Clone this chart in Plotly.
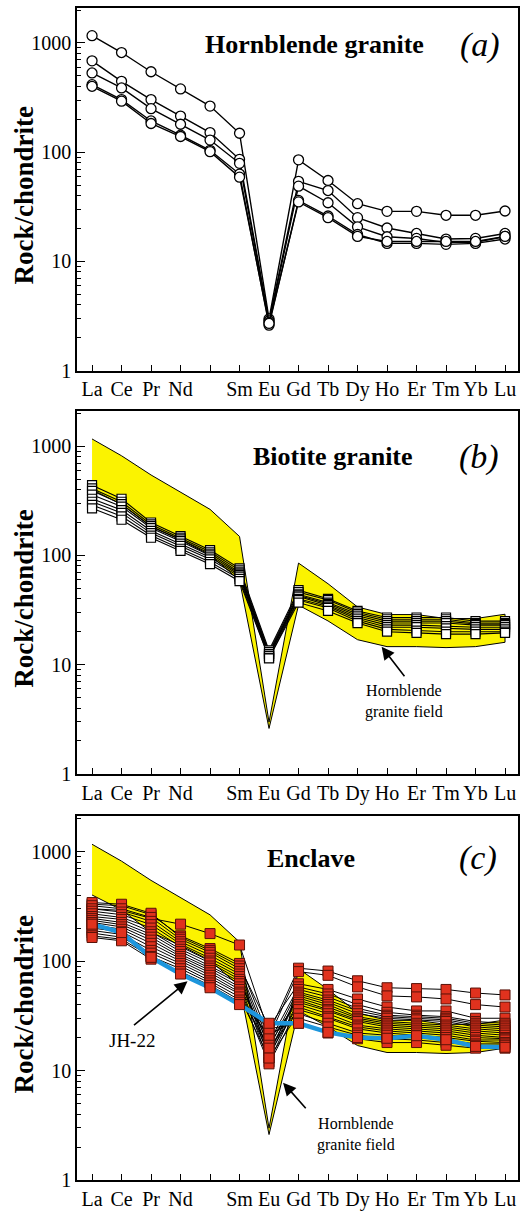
import plotly.graph_objects as go

# Chondrite-normalised REE patterns (Pm position kept, label left blank)
ree = ["La", "Ce", "Pr", "Nd", "Pm", "Sm", "Eu", "Gd", "Tb", "Dy", "Ho", "Er", "Tm", "Yb", "Lu"]
tick_labels = ["La", "Ce", "Pr", "Nd", "", "Sm", "Eu", "Gd", "Tb", "Dy", "Ho", "Er", "Tm", "Yb", "Lu"]

# (a) Hornblende granite
hbl_1 = [1165, 817, 545, 379, 264, 149, 2.97, 85, 55, 33.7, 28.7, 28.7, 26.4, 26.4, 28.9]
hbl_2 = [686, 445, 303, 214, 151, 86, 2.85, 54, 44.5, 25.1, 20.2, 18.0, 16.0, 16.2, 18.0]
hbl_3 = [531, 387, 250, 180, 129, 79, 2.75, 48.8, 34.4, 20.7, 16.8, 16.2, 14.9, 14.9, 16.9]
hbl_4 = [415, 303, 193, 143, 104, 63, 2.6, 36.1, 26.0, 17.6, 14.6, 14.6, 14.3, 14.6, 16.0]
hbl_5 = [401, 293, 183, 139, 101, 59, 2.7, 35.0, 25.1, 16.9, 15.2, 15.2, 15.2, 15.2, 16.9]
hornblende = [hbl_1, hbl_2, hbl_3, hbl_4, hbl_5]

# (b) Biotite granite
bt_1 = [440, 330, 200, 150, 112, 76, 13.5, 48, 40, 31, 27, 27, 27, 25, 25]
bt_2 = [410, 310, 192, 145, 108, 73, 13.0, 46, 39, 30, 26, 26, 26, 24, 24]
bt_3 = [390, 295, 185, 140, 104, 70, 12.5, 44, 37, 29, 25, 25, 25, 23.5, 23.5]
bt_4 = [360, 280, 178, 135, 100, 68, 12.5, 43, 36, 28, 24, 24, 24, 23, 23]
bt_5 = [330, 260, 168, 128, 96, 66, 12.0, 42, 35, 27, 23, 23, 22.5, 22, 22]
bt_6 = [310, 245, 160, 122, 92, 64, 12.0, 40, 34, 26, 22, 22, 21.5, 21, 21]
bt_7 = [290, 228, 152, 115, 87, 61, 11.5, 39, 33, 25, 21, 20.5, 20, 20, 20]
bt_8 = [270, 212, 145, 110, 83, 58, 11.4, 37, 31, 24, 20, 19.5, 19, 19, 19.5]
biotite = [bt_1, bt_2, bt_3, bt_4, bt_5, bt_6, bt_7, bt_8]

# (c) Enclaves
enc_1 = [300, 290, 245, 217, 178, 140, 22, 86, 81, 66, 57, 56, 55, 51, 49]
enc_2 = [330, 320, 265, 170, 130, 95, 20, 80, 74, 58, 48, 47, 45, 40, 38]
enc_3 = [342, 330, 273, 165, 125, 90, 25, 62, 55, 45, 38, 35, 35, 30, 30]
enc_4 = [320, 300, 250, 158, 120, 85, 18, 58, 50, 40, 34, 32, 31, 28, 27]
enc_5 = [300, 280, 230, 150, 113, 80, 16, 55, 47, 37, 32, 31, 30, 27, 26]
enc_6 = [285, 265, 215, 143, 106, 76, 14, 52, 44, 35, 31, 30, 29, 26, 25]
enc_7 = [270, 250, 200, 135, 100, 72, 13, 50, 42, 33, 30, 29, 28, 25, 24]
enc_8 = [255, 240, 185, 128, 96, 68, 15, 48, 40, 31, 28, 27, 26, 24, 23]
enc_9 = [245, 225, 175, 122, 90, 65, 17, 46, 38, 30, 27, 26, 25, 23, 22]
enc_10 = [235, 215, 165, 115, 86, 62, 12, 44, 36, 29, 26, 25, 24, 22, 21]
enc_11 = [225, 205, 155, 110, 82, 58, 19, 42, 35, 28, 25, 24, 23, 21, 20]
enc_12 = [215, 195, 145, 105, 78, 55, 14, 40, 33, 26, 24, 23, 22, 20, 19.5]
enc_13 = [200, 185, 135, 100, 74, 52, 11.5, 38, 31, 25, 23, 22, 21, 19, 19]
enc_14 = [190, 175, 125, 95, 70, 50, 16, 36, 30, 24, 22, 21, 20, 18.5, 18]
enc_15 = [180, 165, 118, 90, 66, 47, 13, 33, 27, 22, 21, 20, 19, 17.5, 17.5]
enc_16 = [170, 158, 110, 85, 63, 44, 21, 30, 25, 21, 19.5, 19, 18, 17, 17]
enc_17 = [164, 153, 104, 80, 60, 42, 24, 27, 22, 19.5, 18, 18, 17, 16, 16]
enclaves = [enc_1, enc_2, enc_3, enc_4, enc_5, enc_6, enc_7, enc_8, enc_9,
            enc_10, enc_11, enc_12, enc_13, enc_14, enc_15, enc_16, enc_17]
jh_22 = [217, 182, 108, 76, 57, 40, 27, 27, 22.3, 20, 19.7, 20.8, 19.1, 16.6, 16.3]

xpos = list(range(1, len(ree) + 1))

SERIF = "Times New Roman"
YELLOW = "#fbf300"
RED = "#e0321e"
RED_EDGE = "#5a1208"
BLUE = "#1e96dc"

W, H = 525, 1216
ML, MR, MT, MB = 77, 5, 8, 28
PLOT_W = W - ML - MR
PLOT_H = H - MT - MB


def px(x, y):
    """Pixel position -> paper coordinates."""
    return (x - ML) / PLOT_W, (H - MB - y) / PLOT_H


# panel boxes in pixels (top, bottom)
boxes = [(8, 373), (414, 779), (822, 1188)]
domains = [[px(0, b)[1], px(0, t)[1]] for t, b in boxes]

fig = go.Figure()


def axes(i):
    s = "" if i == 0 else str(i + 1)
    return "x" + s, "y" + s


# hornblende granite field envelope
field_hi = [max(v) for v in zip(*hornblende)]
field_lo = [min(v) for v in zip(*hornblende)]


def add_field(i):
    xa, ya = axes(i)
    fig.add_trace(go.Scatter(
        x=xpos + xpos[::-1], y=field_hi + field_lo[::-1], xaxis=xa, yaxis=ya,
        mode="lines", fill="toself", fillcolor=YELLOW,
        line=dict(color="black", width=1), hoverinfo="skip", showlegend=False))


# (a)
xa, ya = axes(0)
for s in hornblende:
    fig.add_trace(go.Scatter(
        x=xpos, y=s, xaxis=xa, yaxis=ya, mode="lines+markers",
        line=dict(color="black", width=1.4),
        marker=dict(symbol="circle", size=10, color="white",
                    line=dict(color="black", width=1.3)),
        showlegend=False))

# (b)
add_field(1)
xa, ya = axes(1)
for s in biotite:
    fig.add_trace(go.Scatter(
        x=xpos, y=s, xaxis=xa, yaxis=ya, mode="lines",
        line=dict(color="black", width=1.1), showlegend=False))
for s in biotite:
    fig.add_trace(go.Scatter(
        x=xpos, y=s, xaxis=xa, yaxis=ya, mode="markers",
        marker=dict(symbol="square", size=9, color="white",
                    line=dict(color="black", width=1.2)),
        showlegend=False))

# (c)
add_field(2)
xa, ya = axes(2)
for s in enclaves:
    fig.add_trace(go.Scatter(
        x=xpos, y=s, xaxis=xa, yaxis=ya, mode="lines",
        line=dict(color="black", width=1), showlegend=False))
fig.add_trace(go.Scatter(
    x=xpos, y=jh_22, xaxis=xa, yaxis=ya, mode="lines",
    line=dict(color=BLUE, width=4.5), name="JH-22", showlegend=False))
for s in enclaves + [jh_22]:
    fig.add_trace(go.Scatter(
        x=xpos, y=s, xaxis=xa, yaxis=ya, mode="markers",
        marker=dict(symbol="square", size=10, color=RED,
                    line=dict(color=RED_EDGE, width=1)),
        showlegend=False))

minor_vals = [m * 10 ** e for e in range(0, 4) for m in range(2, 10)]

for i, dom in enumerate(domains):
    s = "" if i == 0 else str(i + 1)
    fig.layout["xaxis" + s] = dict(
        domain=[0, 1], anchor="y" + s, range=[0.49, 15.44],
        tickmode="array", tickvals=xpos, ticktext=tick_labels,
        ticks="inside", ticklen=6, tickwidth=1.2, tickcolor="black",
        showline=True, mirror=True, linecolor="black", linewidth=1.5,
        showgrid=False, zeroline=False,
        tickfont=dict(family=SERIF, size=20, color="black"))
    fig.layout["yaxis" + s] = dict(
        domain=dom, anchor="x" + s, type="log", range=[0, 3.32],
        tickmode="array", tickvals=[1, 10, 100, 1000],
        ticktext=["1", "10", "100", "1000"],
        ticks="inside", ticklen=8, tickwidth=1.2, tickcolor="black",
        minor=dict(tickmode="array", tickvals=minor_vals, ticks="inside",
                   ticklen=4, tickwidth=1, tickcolor="black", showgrid=False),
        showline=True, mirror=True, linecolor="black", linewidth=1.5,
        showgrid=False, zeroline=False,
        tickfont=dict(family=SERIF, size=20, color="black"))

annotations = []


def text(x, y, t, size, bold=False, italic=False, angle=0):
    xp, yp = px(x, y)
    if bold:
        t = "<b>" + t + "</b>"
    if italic:
        t = "<i>" + t + "</i>"
    annotations.append(dict(
        x=xp, y=yp, xref="paper", yref="paper", text=t, showarrow=False,
        textangle=angle, xanchor="center", yanchor="middle",
        font=dict(family=SERIF, size=size, color="black")))


def arrow(x0, y0, x1, y1):
    xp, yp = px(x1, y1)
    annotations.append(dict(
        x=xp, y=yp, xref="paper", yref="paper", text="", showarrow=True,
        ax=x0 - x1, ay=y0 - y1, axref="pixel", ayref="pixel",
        arrowhead=2, arrowsize=1.6, arrowwidth=1.6, arrowcolor="black"))


# axis titles
for t, b in boxes:
    text(24, (t + b) / 2 + 6, "Rock/chondrite", 27, bold=True, angle=-90)

# panel titles
text(316, 45, "Hornblende granite", 26, bold=True)
text(482, 45, "(a)", 34, italic=True)
text(334, 460, "Biotite granite", 26, bold=True)
text(481, 460, "(b)", 34, italic=True)
text(312, 864, "Enclave", 26, bold=True)
text(480, 864, "(c)", 34, italic=True)

# field and sample call-outs
text(405, 706, "Hornblende<br>granite field", 16)
arrow(407, 682, 383, 651)
text(132, 1048, "JH-22", 19)
arrow(133, 1033, 188, 988)
text(357, 1142, "Hornblende<br>granite field", 16)
arrow(308, 1117, 284, 1090)

fig.update_layout(
    width=W, height=H,
    margin=dict(l=ML, r=MR, t=MT, b=MB),
    paper_bgcolor="white", plot_bgcolor="white",
    font=dict(family=SERIF, color="black"),
    annotations=annotations, showlegend=False)

fig.write_html("out.html")
